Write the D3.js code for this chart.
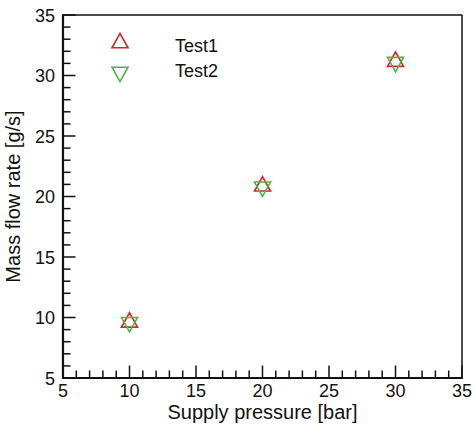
<!DOCTYPE html>
<html><head><meta charset="utf-8">
<script src="https://cdn.jsdelivr.net/npm/d3@7"></script>
<style>body{margin:0;background:#fff}svg{display:block}text{font-family:"Liberation Sans",Arial,sans-serif;fill:#111}</style>
</head><body><svg id="c" width="474" height="424"></svg>
<script>
const pressure = [10, 20, 30];
const test1 = [9.6, 20.85, 31.15];
const test2 = [9.6, 20.8, 31.1];
const xTicks = [5, 10, 15, 20, 25, 30, 35];
const yTicks = [5, 10, 15, 20, 25, 30, 35];
const seriesNames = ["Test1", "Test2"];
const colors = ["#d3242f", "#45b945"];

const svg = d3.select("#c");
const L = 63, R = 462, T = 15, B = 378;
const x = d3.scaleLinear().domain([5, 35]).range([L, R]);
const y = d3.scaleLinear().domain([5, 35]).range([B, T]);

// minor ticks
const minor = d3.range(5, 36, 1).filter(v => v % 5 !== 0);
const g = svg.append("g");
g.selectAll(".mx").data(minor).join("line")
  .attr("x1", d => x(d)).attr("x2", d => x(d)).attr("y1", B).attr("y2", B - 7.5)
  .attr("stroke", "#111").attr("stroke-width", 1.5);
g.selectAll(".my").data(minor).join("line")
  .attr("y1", d => y(d)).attr("y2", d => y(d)).attr("x1", L).attr("x2", L + 7.5)
  .attr("stroke", "#111").attr("stroke-width", 1.5);
g.selectAll(".Mx").data(xTicks).join("line")
  .attr("x1", d => x(d)).attr("x2", d => x(d)).attr("y1", B).attr("y2", B - 12.5)
  .attr("stroke", "#111").attr("stroke-width", 1.5);
g.selectAll(".My").data(yTicks).join("line")
  .attr("y1", d => y(d)).attr("y2", d => y(d)).attr("x1", L).attr("x2", L + 12.5)
  .attr("stroke", "#111").attr("stroke-width", 1.5);

// frame
svg.append("line").attr("x1", L).attr("x2", R).attr("y1", T).attr("y2", T).attr("stroke", "#111").attr("stroke-width", 1.5);
svg.append("line").attr("x1", R).attr("x2", R).attr("y1", T).attr("y2", B).attr("stroke", "#111").attr("stroke-width", 1.5);
svg.append("line").attr("x1", L).attr("x2", L).attr("y1", T - 0.75).attr("y2", B + 1).attr("stroke", "#111").attr("stroke-width", 2.2);
svg.append("line").attr("x1", L - 1).attr("x2", R + 0.75).attr("y1", B).attr("y2", B).attr("stroke", "#111").attr("stroke-width", 2.2);

// tick labels
svg.selectAll(".xl").data(xTicks).join("text")
  .attr("x", d => x(d)).attr("y", B + 18.5).attr("text-anchor", "middle")
  .attr("font-size", 18).text(d => d);
svg.selectAll(".yl").data(yTicks).join("text")
  .attr("x", L - 8).attr("y", d => y(d) + 6.5).attr("text-anchor", "end")
  .attr("font-size", 18).text(d => d);

// axis titles
svg.append("text").attr("x", (L + R) / 2).attr("y", 419).attr("text-anchor", "middle")
  .attr("font-size", 20).text("Supply pressure [bar]");
svg.append("text").attr("transform", `translate(20,${(T + B) / 2}) rotate(-90)`)
  .attr("text-anchor", "middle").attr("font-size", 20).text("Mass flow rate [g/s]");

// markers
function tri(up, s) {
  const h = s * 0.9, w = s / 2;
  return up
    ? `M0,${-2*h/3}L${w},${h/3}L${-w},${h/3}Z`
    : `M0,${2*h/3}L${w},${-h/3}L${-w},${-h/3}Z`;
}
const data = [test1, test2];
data.forEach((vals, i) => {
  svg.append("g").selectAll("path").data(vals.map((v, j) => [pressure[j], v])).join("path")
    .attr("d", tri(i === 0, 16))
    .attr("transform", d => `translate(${x(d[0])},${y(d[1])})`)
    .attr("fill", "none").attr("stroke", colors[i]).attr("stroke-width", 1.6);
});

// legend
const leg = svg.append("g");
seriesNames.forEach((n, i) => {
  const cy = 45 + i * 25;
  leg.append("path").attr("d", tri(i === 0, 16))
    .attr("transform", `translate(120,${i === 0 ? cy - 2 : cy + 2})`)
    .attr("fill", "none").attr("stroke", colors[i]).attr("stroke-width", 1.6);
  leg.append("text").attr("x", 175).attr("y", cy + 6.5).attr("font-size", 18).text(n);
});
</script></body></html>
